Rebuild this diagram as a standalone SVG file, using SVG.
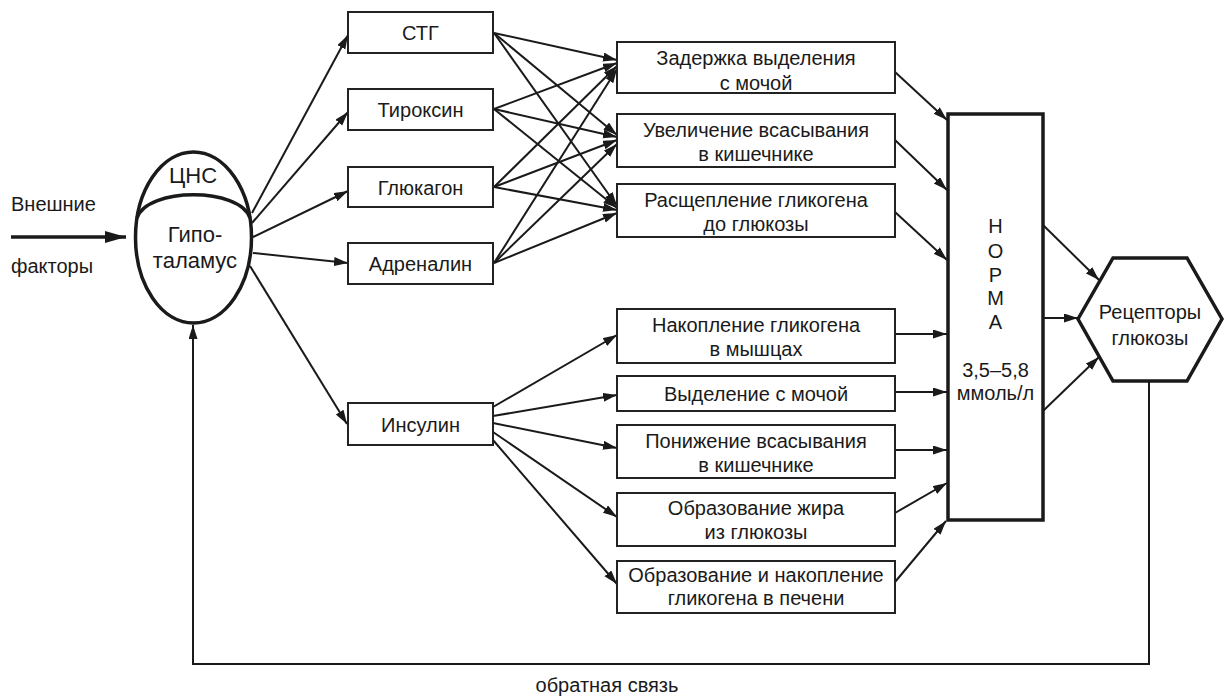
<svg xmlns="http://www.w3.org/2000/svg" width="1226" height="698" viewBox="0 0 1226 698">
<defs>
<marker id="ah" markerUnits="userSpaceOnUse" markerWidth="15" markerHeight="10" refX="14" refY="4.5" orient="auto">
<path d="M0,0 L14,4.5 L0,9 z" fill="#1a1a1a"/>
</marker>
<marker id="ahb" markerUnits="userSpaceOnUse" markerWidth="22" markerHeight="14" refX="21" refY="6" orient="auto">
<path d="M0,0 L21,6 L0,12 z" fill="#1a1a1a"/>
</marker>
</defs>
<style>
text{font-family:"Liberation Sans",Arial,sans-serif;font-size:20px;fill:#1a1a1a;text-anchor:middle}
.box{fill:#fff;stroke:#222;stroke-width:2}
.thick{fill:#fff;stroke:#1a1a1a;stroke-width:3.5}
.c line,.c path{stroke:#1a1a1a;stroke-width:2;fill:none;marker-end:url(#ah)}
.lbl{text-anchor:start}
</style>
<rect width="1226" height="698" fill="#fff"/>

<g id="connectors" class="c">
<line x1="11" y1="237" x2="126" y2="237" style="stroke-width:3.5;marker-end:url(#ahb)"/>
<line x1="252" y1="213" x2="348" y2="35"/>
<line x1="252" y1="223" x2="348" y2="112"/>
<line x1="253" y1="237" x2="348" y2="191"/>
<line x1="253" y1="253" x2="348" y2="263"/>
<line x1="250" y1="266" x2="347" y2="424"/>
<line x1="494" y1="33" x2="617" y2="60"/>
<line x1="494" y1="33" x2="617" y2="135"/>
<line x1="494" y1="33" x2="617" y2="206"/>
<line x1="494" y1="109" x2="617" y2="63"/>
<line x1="494" y1="109" x2="617" y2="137"/>
<line x1="494" y1="109" x2="617" y2="208"/>
<line x1="494" y1="187" x2="617" y2="66"/>
<line x1="494" y1="187" x2="617" y2="140"/>
<line x1="494" y1="187" x2="617" y2="210"/>
<line x1="494" y1="263" x2="617" y2="69"/>
<line x1="494" y1="263" x2="617" y2="144"/>
<line x1="494" y1="263" x2="617" y2="213"/>
<line x1="493" y1="407" x2="617" y2="335"/>
<line x1="493" y1="416" x2="617" y2="395"/>
<line x1="493" y1="423" x2="617" y2="448"/>
<line x1="493" y1="432" x2="617" y2="517"/>
<line x1="493" y1="440" x2="617" y2="584"/>
<line x1="895" y1="72" x2="947" y2="120"/>
<line x1="895" y1="140" x2="947" y2="190"/>
<line x1="895" y1="212" x2="947" y2="260"/>
<line x1="895" y1="334" x2="947" y2="334"/>
<line x1="895" y1="392" x2="947" y2="392"/>
<line x1="895" y1="450" x2="947" y2="450"/>
<line x1="895" y1="513" x2="947" y2="483"/>
<line x1="895" y1="582" x2="946" y2="521"/>
<line x1="1043" y1="225" x2="1099" y2="280"/>
<line x1="1043" y1="318" x2="1078" y2="318"/>
<line x1="1043" y1="411" x2="1099" y2="357"/>
<path d="M1149,381 V664 H193 V325"/>
</g>

<g id="ext-label">
<text class="lbl" x="11" y="211">Внешние</text>
<text class="lbl" x="11" y="273">факторы</text>
</g>

<g id="cns">
<ellipse class="thick" cx="193.5" cy="237.5" rx="58" ry="85.5"/>
<path d="M137,218 C147,187 240,187 250,218" fill="none" stroke="#1a1a1a" stroke-width="3.5"/>
<text x="193" y="183" style="font-size:22px">ЦНС</text>
<text x="195" y="242" style="font-size:22px">Гипо-</text>
<text x="195" y="268" style="font-size:22px">таламус</text>
</g>

<g id="stg"><rect class="box" x="348" y="12" width="145" height="41"/><text x="420.5" y="39.5">СТГ</text></g>
<g id="tyroxin"><rect class="box" x="348" y="89" width="145" height="41"/><text x="420.5" y="117">Тироксин</text></g>
<g id="glucagon"><rect class="box" x="348" y="167" width="145" height="40"/><text x="420.5" y="194.5">Глюкагон</text></g>
<g id="adrenalin"><rect class="box" x="348" y="243" width="145" height="41"/><text x="420.5" y="271">Адреналин</text></g>
<g id="insulin"><rect class="box" x="348" y="403" width="145" height="42"/><text x="420.5" y="431.5">Инсулин</text></g>

<g id="e1"><rect class="box" x="617" y="42" width="278" height="51"/><text x="756" y="65">Задержка выделения</text><text x="756" y="89.5">с мочой</text></g>
<g id="e2"><rect class="box" x="617" y="114" width="278" height="53"/><text x="756" y="136.5">Увеличение всасывания</text><text x="756" y="160.5">в кишечнике</text></g>
<g id="e3"><rect class="box" x="617" y="184" width="278" height="53"/><text x="756" y="206.5">Расщепление гликогена</text><text x="756" y="230.5">до глюкозы</text></g>
<g id="e4"><rect class="box" x="617" y="309" width="278" height="54"/><text x="756" y="331.5">Накопление гликогена</text><text x="756" y="355.5">в мышцах</text></g>
<g id="e5"><rect class="box" x="617" y="376" width="278" height="35"/><text x="756" y="400.5">Выделение с мочой</text></g>
<g id="e6"><rect class="box" x="617" y="425" width="278" height="53"/><text x="756" y="447.5">Понижение всасывания</text><text x="756" y="471.5">в кишечнике</text></g>
<g id="e7"><rect class="box" x="617" y="493" width="278" height="53"/><text x="756" y="514.5">Образование жира</text><text x="756" y="538.5">из глюкозы</text></g>
<g id="e8"><rect class="box" x="617" y="561" width="278" height="52"/><text x="756" y="581.5">Образование и накопление</text><text x="756" y="604.5">гликогена в печени</text></g>

<g id="norma">
<rect class="thick" x="948" y="114" width="95" height="406"/>
<text x="995.5" y="233">Н</text>
<text x="995.5" y="258">О</text>
<text x="995.5" y="282">Р</text>
<text x="995.5" y="305">М</text>
<text x="995.5" y="329">А</text>
<text x="995.5" y="377">3,5–5,8</text>
<text x="995.5" y="400">ммоль/л</text>
</g>

<g id="receptors">
<polygon class="thick" points="1078,319 1113,258 1187,258 1222,319 1187,381 1113,381"/>
<text x="1150" y="319">Рецепторы</text>
<text x="1150" y="345">глюкозы</text>
</g>

<g id="feedback-label"><text x="607" y="692" style="font-size:20px">обратная связь</text></g>
</svg>
